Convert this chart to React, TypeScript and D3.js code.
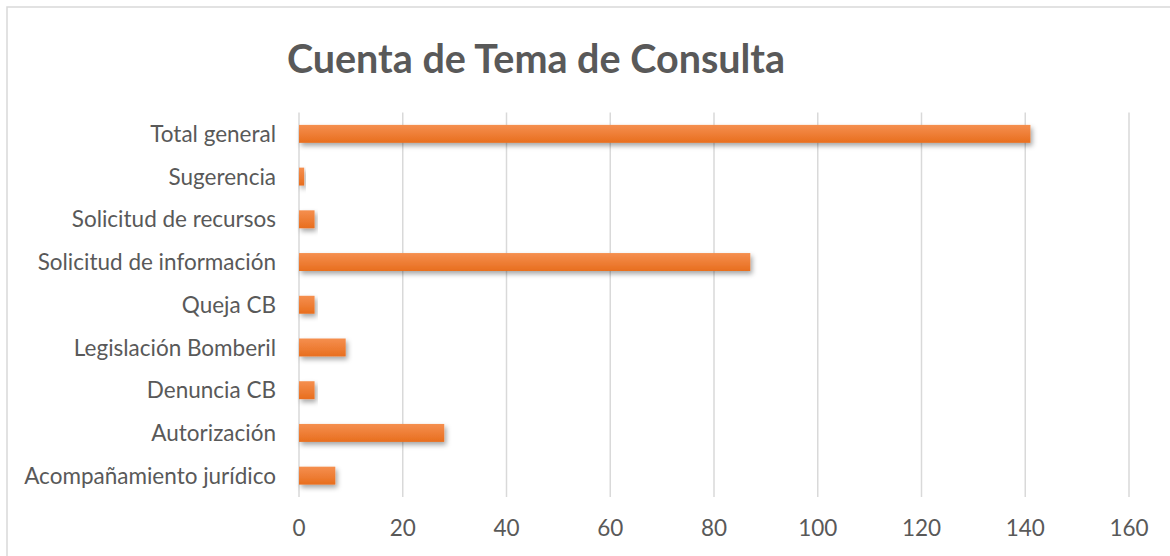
import React from "react";
import * as d3 from "d3";

const categories = [
  "Total general",
  "Sugerencia",
  "Solicitud de recursos",
  "Solicitud de información",
  "Queja CB",
  "Legislación Bomberil",
  "Denuncia CB",
  "Autorización",
  "Acompañamiento jurídico",
];
const values = [141, 1, 3, 87, 3, 9, 3, 28, 7];
const xTicks = [0, 20, 40, 60, 80, 100, 120, 140, 160];
const title = "Cuenta de Tema de Consulta";

const W = 1170;
const H = 556;
const FONT = "Lato, 'Open Sans', sans-serif";

export default function App() {
  const x = d3.scaleLinear().domain([0, 160]).range([299, 1129]);
  const y = d3.scaleBand<string>().domain(categories).range([112.5, 497]).paddingInner(0.58).paddingOuter(0.29);
  return (
    <svg width={W} height={H} style={{ position: "absolute", left: 0, top: 0 }} fontFamily={FONT}>
      <defs>
        <linearGradient id="barGrad" x1="0" y1="0" x2="0" y2="1">
          <stop offset="0%" stopColor="#F58F4F" />
          <stop offset="100%" stopColor="#E86E1E" />
        </linearGradient>
        <filter id="shadow" x="-10%" y="-30%" width="130%" height="190%">
          <feDropShadow dx="2" dy="3" stdDeviation="2.5" floodColor="#000" floodOpacity="0.35" />
        </filter>
      </defs>
      <rect x={0} y={0} width={W} height={H} fill="#fff" />
      <rect x={7} y={7} width={W} height={H} fill="#fff" stroke="#d9d9d9" strokeWidth={1.5} />
      <text x={536} y={73} textAnchor="middle" fontSize={39.5} fontWeight="bold" fill="#595959">
        {title}
      </text>
      {xTicks.map((t) => (
        <g key={t}>
          <line x1={x(t)} x2={x(t)} y1={112.5} y2={497} stroke="#d9d9d9" strokeWidth={1.5} />
          <text x={x(t)} y={536} textAnchor="middle" fontSize={22.5} fill="#595959">
            {t}
          </text>
        </g>
      ))}
      {categories.map((c, i) => (
        <g key={c}>
          <rect
            x={x(0)}
            y={y(c)!}
            width={x(values[i]) - x(0)}
            height={y.bandwidth()}
            fill="url(#barGrad)"
            filter="url(#shadow)"
          />
          <text
            x={276}
            y={y(c)! + y.bandwidth() / 2}
            dy="0.36em"
            textAnchor="end"
            fontSize={22.5}
            fill="#595959"
          >
            {c}
          </text>
        </g>
      ))}
    </svg>
  );
}
